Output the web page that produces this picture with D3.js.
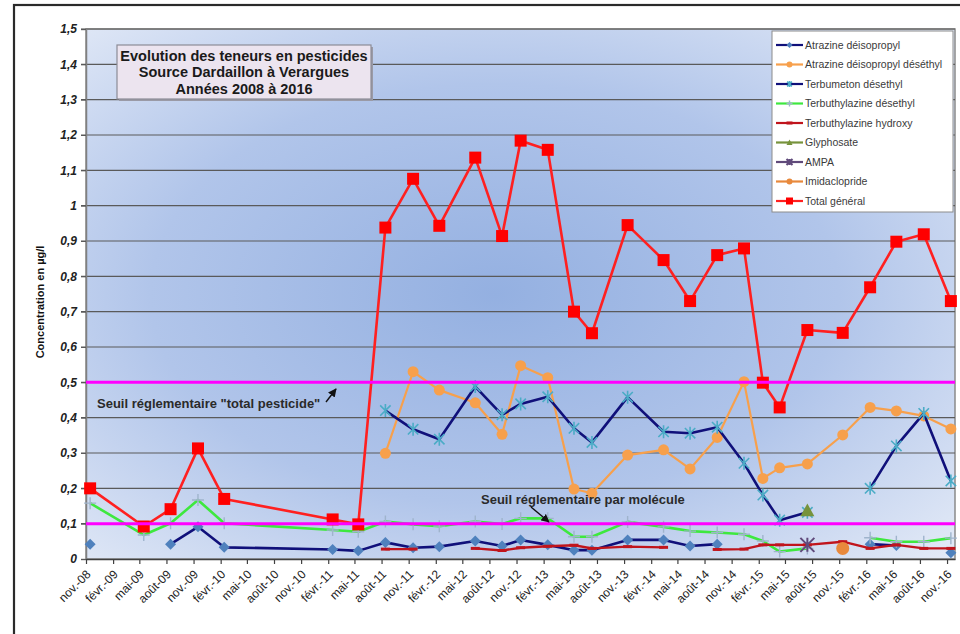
<!DOCTYPE html>
<html>
<head>
<meta charset="utf-8">
<script src="https://cdn.jsdelivr.net/npm/d3@7"></script>
<style>
  body { margin: 0; background: #fff; }
  svg { display: block; }
  text { font-family: Arial, "Liberation Sans", sans-serif; }
</style>
</head>
<body>
<svg id="chart" width="960" height="634"></svg>
<script>
// Sampling dates (one per analysis campaign)
const sampleDates = [
  "2008-11-15", "2009-05-16", "2009-08-15", "2009-11-16", "2010-02-13",
  "2011-02-16", "2011-05-14", "2011-08-14", "2011-11-16", "2012-02-13",
  "2012-06-14", "2012-09-13", "2012-11-15", "2013-02-15", "2013-05-15",
  "2013-07-15", "2013-11-13", "2014-03-15", "2014-06-13", "2014-09-13",
  "2014-12-13", "2015-02-15", "2015-04-13", "2015-07-16", "2015-11-13",
  "2016-02-14", "2016-05-13", "2016-08-14", "2016-11-14"
];

// Concentrations in µg/l (null = not detected / not measured)
const atrazineDeisopropyl = [
  0.042, null, 0.042, 0.091, 0.033, 0.027, 0.023, 0.047, 0.032, 0.035,
  0.051, 0.037, 0.054, 0.040, 0.025, 0.025, 0.054, 0.054, 0.037, 0.042,
  null, null, null, null, null, 0.042, 0.038, null, 0.018
];
const atrazineDeisopropylDesethyl = [
  null, null, null, null, null, null, null, 0.299, 0.530, 0.478,
  0.442, 0.353, 0.547, 0.513, 0.198, 0.186, 0.294, 0.309, 0.255, 0.344,
  0.502, 0.228, 0.258, 0.269, 0.351, 0.429, 0.419, 0.405, 0.368
];
const terbumetonDesethyl = [
  null, null, null, null, null, null, null, 0.420, 0.367, 0.339,
  0.488, 0.408, 0.439, 0.459, 0.370, 0.330, 0.458, 0.360, 0.356, 0.373,
  0.271, 0.181, 0.110, 0.132, null, 0.200, 0.320, 0.412, 0.221
];
const terbuthylazineDesethyl = [
  0.158, 0.068, 0.101, 0.167, 0.101, 0.082, 0.077, 0.106, 0.098, 0.093,
  0.106, 0.099, 0.115, 0.115, 0.063, 0.063, 0.105, 0.091, 0.079, 0.075,
  0.070, 0.051, 0.021, 0.030, null, 0.060, 0.049, 0.049, 0.059
];
const terbuthylazineHydroxy = [
  null, null, null, null, null, null, null, 0.028, 0.028, null,
  0.030, 0.024, 0.032, 0.036, 0.039, 0.030, 0.035, 0.033, null, 0.027,
  0.028, 0.040, 0.040, 0.040, 0.049, 0.030, 0.040, 0.030, 0.030
];
const glyphosate = [
  null, null, null, null, null, null, null, null, null, null,
  null, null, null, null, null, null, null, null, null, null,
  null, null, null, 0.137, null, null, null, null, null
];
const ampa = [
  null, null, null, null, null, null, null, null, null, null,
  null, null, null, null, null, null, null, null, null, null,
  null, null, null, 0.040, null, null, null, null, null
];
const imidaclopride = [
  null, null, null, null, null, null, null, null, null, null,
  null, null, null, null, null, null, null, null, null, null,
  null, null, null, null, 0.030, null, null, null, null
];
const totalGeneral = [
  0.200, 0.092, 0.141, 0.313, 0.170, 0.112, 0.098, 0.938, 1.076, 0.943,
  1.136, 0.914, 1.184, 1.158, 0.700, 0.639, 0.945, 0.846, 0.730, 0.860,
  0.879, 0.499, 0.429, 0.648, 0.640, 0.769, 0.898, 0.919, 0.730
];

const seriesNames = [
  "Atrazine déisopropyl", "Atrazine déisopropyl déséthyl", "Terbumeton désethyl",
  "Terbuthylazine désethyl", "Terbuthylazine hydroxy", "Glyphosate", "AMPA",
  "Imidaclopride", "Total général"
];

const yTicks = [0, 0.1, 0.2, 0.3, 0.4, 0.5, 0.6, 0.7, 0.8, 0.9, 1.0, 1.1, 1.2, 1.3, 1.4, 1.5];
const axisStart = "2008-11-01";
const axisEnd = "2016-11-28";
const tickCount = 33;          // quarterly ticks, nov.-08 .. nov.-16
const thresholds = [0.5, 0.1]; // regulatory limits
const titleLines = ["Evolution des teneurs en pesticides", "Source Dardaillon à Verargues", "Années 2008 à 2016"];
const yTitle = "Concentration en µg/l";
const thresholdLabels = ["Seuil réglementaire \"total pesticide\"", "Seuil réglementaire par molécule"];

// ---- French locale for dates and numbers ----
const frTime = d3.timeFormatLocale({
  dateTime: "%A %e %B %Y à %X", date: "%d/%m/%Y", time: "%H:%M:%S",
  periods: ["AM", "PM"],
  days: ["dimanche", "lundi", "mardi", "mercredi", "jeudi", "vendredi", "samedi"],
  shortDays: ["dim.", "lun.", "mar.", "mer.", "jeu.", "ven.", "sam."],
  months: ["janvier", "février", "mars", "avril", "mai", "juin", "juillet", "août", "septembre", "octobre", "novembre", "décembre"],
  shortMonths: ["janv.", "févr.", "mars", "avr.", "mai", "juin", "juil.", "août", "sept.", "oct.", "nov.", "déc."]
});
const frNum = d3.formatLocale({ decimal: ",", thousands: " ", grouping: [3], currency: ["", " €"] });
const fmtDate = frTime.format("%b-%y");
const fmtY = frNum.format(".1~f");
const parse = d3.timeParse("%Y-%m-%d");

// ---- Layout ----
const svg = d3.select("#chart");
const plot = { left: 86, right: 955, top: 29, bottom: 559 };

const x = d3.scaleTime().domain([parse(axisStart), parse(axisEnd)]).range([plot.left, plot.right]);
const y = d3.scaleLinear().domain([0, 1.5]).range([plot.bottom, plot.top]);
const dates = sampleDates.map(parse);
const xTicks = d3.range(tickCount).map(i => d3.timeMonth.offset(parse(axisStart), 3 * i));

// Outer frame
svg.append("rect").attr("x", 14).attr("y", 5).attr("width", 1000).attr("height", 700)
  .attr("fill", "#fff").attr("stroke", "#2a2a2a").attr("stroke-width", 2.2);

// Plot background gradient
const defs = svg.append("defs");
const grad = defs.append("radialGradient").attr("id", "plotBg")
  .attr("cx", "0.47").attr("cy", "0.5").attr("r", "0.72");
grad.append("stop").attr("offset", "0").attr("stop-color", "#94b0e1");
grad.append("stop").attr("offset", "0.55").attr("stop-color", "#b1c5ea");
grad.append("stop").attr("offset", "1").attr("stop-color", "#e3eaf7");

defs.append("marker").attr("id", "arrow").attr("viewBox", "0 0 10 10")
  .attr("refX", 9).attr("refY", 5).attr("markerWidth", 6).attr("markerHeight", 6)
  .attr("orient", "auto").append("path").attr("d", "M0,0 L10,5 L0,10 z").attr("fill", "#111");

svg.append("rect").attr("x", plot.left).attr("y", plot.top)
  .attr("width", plot.right - plot.left).attr("height", plot.bottom - plot.top)
  .attr("fill", "url(#plotBg)").attr("stroke", "#8a8a8a").attr("stroke-width", 1.5);

// Horizontal gridlines
svg.append("g").selectAll("line").data(yTicks.filter(v => v > 0)).join("line")
  .attr("x1", plot.left - 5).attr("x2", plot.right)
  .attr("y1", d => y(d)).attr("y2", d => y(d))
  .attr("stroke", "#5a5a5a").attr("stroke-width", 1.2);

// Y axis
const yAxis = svg.append("g").attr("transform", `translate(${plot.left},0)`)
  .call(d3.axisLeft(y).tickValues(yTicks).tickFormat(fmtY).tickSize(5).tickPadding(4));
yAxis.select(".domain").attr("stroke", "#808080").attr("stroke-width", 1.5);
yAxis.selectAll(".tick line").attr("stroke", "#5a5a5a");
yAxis.selectAll("text").attr("font-size", 12).attr("font-weight", "bold")
  .attr("font-style", "italic").attr("fill", "#222");

// X axis
const xAxis = svg.append("g").attr("transform", `translate(0,${plot.bottom})`)
  .call(d3.axisBottom(x).tickValues(xTicks).tickFormat(fmtDate).tickSize(5).tickSizeOuter(0));
xAxis.select(".domain").attr("stroke", "#404040").attr("stroke-width", 1.6);
xAxis.selectAll(".tick line").attr("stroke", "#404040").attr("stroke-width", 1.2);
xAxis.selectAll("text").attr("font-size", 12).attr("fill", "#222")
  .attr("text-anchor", "end").attr("dy", 0).attr("y", 0)
  .attr("transform", "translate(5,16) rotate(-45)");

// Y title
svg.append("text").attr("transform", "translate(44,302) rotate(-90)")
  .attr("text-anchor", "middle").attr("font-size", 11).attr("font-weight", "bold")
  .attr("fill", "#111").text(yTitle);

// ---- Marker shapes ----
function markerPath(type, s) {
  switch (type) {
    case "square": return `M${-s},${-s}h${2 * s}v${2 * s}h${-2 * s}Z`;
    case "diamond": return `M0,${-s}L${s},0L0,${s}L${-s},0Z`;
    case "triangle": return `M0,${-s}L${s},${s * 0.8}L${-s},${s * 0.8}Z`;
    case "plus": return `M${-s},0H${s}M0,${-s}V${s}`;
    case "star": return `M${-s * 0.8},${-s * 0.8}L${s * 0.8},${s * 0.8}M${-s * 0.8},${s * 0.8}L${s * 0.8},${-s * 0.8}M0,${-s}V${s}`;
    case "xstar": return `M${-s},${-s}L${s},${s}M${-s},${s}L${s},${-s}M0,${-s}V${s}`;
    case "dash": return `M${-s},0H${s}`;
  }
  return "";
}

const seriesValues = [
  atrazineDeisopropyl, atrazineDeisopropylDesethyl, terbumetonDesethyl,
  terbuthylazineDesethyl, terbuthylazineHydroxy, glyphosate, ampa,
  imidaclopride, totalGeneral
];
const seriesStyle = [
  { line: "#10107a", width: 2.6, marker: "diamond", size: 5.5, fill: "#4f81bd", mstroke: null },
  { line: "#f7a04c", width: 2.2, marker: "circle", size: 5.5, fill: "#f7a04c", mstroke: null },
  { line: "#10107a", width: 2.6, marker: "star", size: 6.5, fill: "none", mstroke: "#4bacc6", mwidth: 1.6 },
  { line: "#3ee83e", width: 2.6, marker: "plus", size: 6, fill: "none", mstroke: "#9fb4cc", mwidth: 1.4 },
  { line: "#c0141c", width: 2.4, marker: "dash", size: 4.5, fill: "none", mstroke: "#c0141c", mwidth: 3 },
  { line: "#77933c", width: 2.4, marker: "triangle", size: 7, fill: "#77933c", mstroke: null },
  { line: "#604a7b", width: 2.4, marker: "xstar", size: 7, fill: "none", mstroke: "#604a7b", mwidth: 2 },
  { line: "#e8893c", width: 2.4, marker: "circle", size: 6.5, fill: "#e8893c", mstroke: null },
  { line: "#ff2020", width: 2.6, marker: "square", size: 6, fill: "#ff0000", mstroke: null }
];

const series = seriesNames.map((name, i) => ({
  name,
  style: seriesStyle[i],
  points: dates.map((d, j) => ({ date: d, value: seriesValues[i][j] }))
}));

const line = d3.line().defined(d => d.value != null)
  .x(d => x(d.date)).y(d => y(d.value));

function drawMarker(sel, st, s) {
  if (st.marker === "circle") {
    sel.append("circle").attr("r", s).attr("fill", st.fill);
  } else {
    sel.append("path").attr("d", markerPath(st.marker, s))
      .attr("fill", st.fill)
      .attr("stroke", st.mstroke || "none")
      .attr("stroke-width", st.mwidth || 1);
  }
}

const gSeries = svg.append("g");
series.forEach(s => {
  const g = gSeries.append("g");
  g.append("path").datum(s.points).attr("d", line)
    .attr("fill", "none").attr("stroke", s.style.line)
    .attr("stroke-width", s.style.width).attr("stroke-linejoin", "round");
  g.selectAll("g.m").data(s.points.filter(p => p.value != null)).join("g")
    .attr("class", "m")
    .attr("transform", p => `translate(${x(p.date)},${y(p.value)})`)
    .each(function () { drawMarker(d3.select(this), s.style, s.style.size); });
});

// Regulatory thresholds
svg.append("g").selectAll("line").data(thresholds).join("line")
  .attr("x1", plot.left).attr("x2", plot.right)
  .attr("y1", d => y(d)).attr("y2", d => y(d))
  .attr("stroke", "#ff00ff").attr("stroke-width", 3);

// Threshold annotations
svg.append("text").attr("x", 97).attr("y", 408).attr("font-size", 13)
  .attr("font-weight", "bold").attr("fill", "#2a2a2a").text(thresholdLabels[0]);
svg.append("line").attr("x1", 326).attr("y1", 402).attr("x2", 336).attr("y2", 389)
  .attr("stroke", "#111").attr("stroke-width", 1.4).attr("marker-end", "url(#arrow)");
svg.append("text").attr("x", 481).attr("y", 504).attr("font-size", 13)
  .attr("font-weight", "bold").attr("fill", "#2a2a2a").text(thresholdLabels[1]);
svg.append("line").attr("x1", 531).attr("y1", 507).attr("x2", 549).attr("y2", 522)
  .attr("stroke", "#111").attr("stroke-width", 1.4).attr("marker-end", "url(#arrow)");

// Title box
const tb = svg.append("g");
tb.append("rect").attr("x", 119).attr("y", 47).attr("width", 254).attr("height", 54)
  .attr("fill", "#9a9aa6");
tb.append("rect").attr("x", 117).attr("y", 45).attr("width", 254).attr("height", 54)
  .attr("fill", "#ece4ef").attr("stroke", "#8c8c96").attr("stroke-width", 1.2);
tb.selectAll("text").data(titleLines).join("text")
  .attr("x", 244).attr("y", (d, i) => 61 + i * 16.3)
  .attr("text-anchor", "middle").attr("font-size", 14.5).attr("font-weight", "bold")
  .attr("fill", "#1a1a1a").text(d => d);

// Legend
const lg = svg.append("g");
lg.append("rect").attr("x", 772).attr("y", 31).attr("width", 181).attr("height", 181)
  .attr("fill", "#fff").attr("stroke", "#8c8c8c").attr("stroke-width", 1);
const items = lg.selectAll("g.item").data(series).join("g").attr("class", "item")
  .attr("transform", (d, i) => `translate(0,${45 + i * 19.5})`);
items.append("line").attr("x1", 776).attr("x2", 803).attr("y1", 0).attr("y2", 0)
  .attr("stroke", d => d.style.line).attr("stroke-width", 2.2);
items.append("g").attr("transform", "translate(789.5,0)")
  .each(function (d) { drawMarker(d3.select(this), d.style, d.style.marker === "square" ? 3.5 : 3); });
items.append("text").attr("x", 805).attr("y", 0).attr("dy", "0.35em")
  .attr("font-size", 10.5).attr("fill", "#3a3a3a").text(d => d.name);
</script>
</body>
</html>
